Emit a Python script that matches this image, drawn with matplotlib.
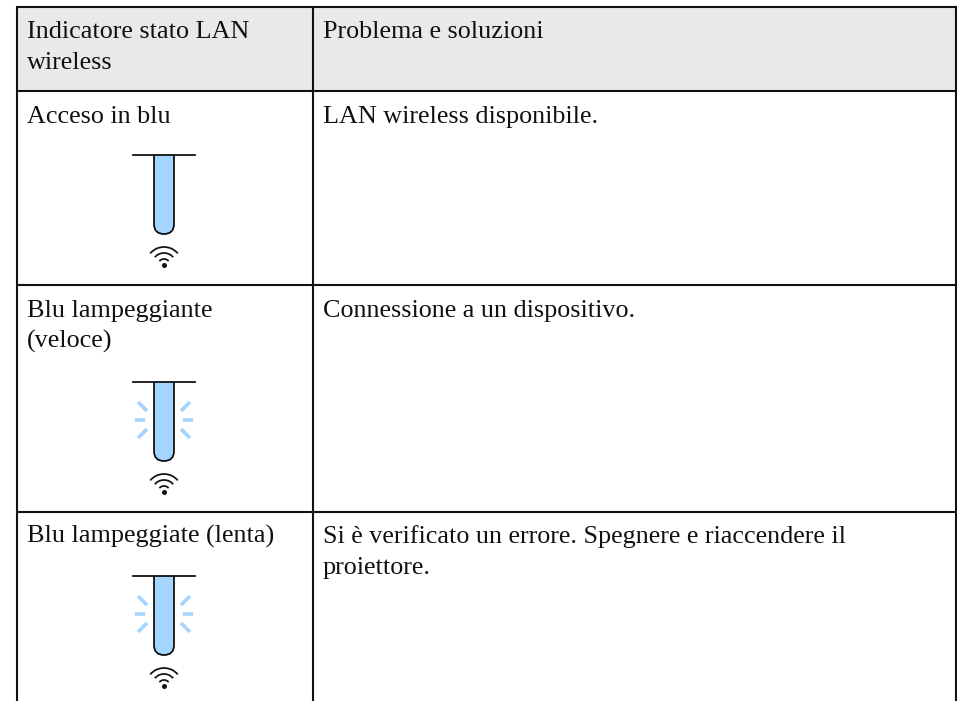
import matplotlib.pyplot as plt
from matplotlib.patches import Rectangle, PathPatch, Arc
from matplotlib.path import Path

W, H = 957, 701

left_texts = [
    ["Indicatore stato LAN", "wireless"],
    ["Acceso in blu"],
    ["Blu lampeggiante", "(veloce)"],
    ["Blu lampeggiate (lenta)"],
]
right_texts = [
    ["Problema e soluzioni"],
    ["LAN wireless disponibile."],
    ["Connessione a un dispositivo."],
    ["Si è verificato un errore. Spegnere e riaccendere il", "proiettore."],
]
row_lines = [6.5, 91, 285, 512]
baselines = [38, 123, 317, 543]
icon_tops = [155, 382, 576]
blinking = [False, True, True]

BLUE = "#a3d5ff"
INK = "#111111"

plt.rcParams["font.family"] = "Liberation Serif"

fig = plt.figure(figsize=(W / 100, H / 100), dpi=100)
ax = fig.add_axes([0, 0, 1, 1])
ax.set_xlim(0, W)
ax.set_ylim(H, 0)
ax.axis("off")

# header background and grid
ax.add_patch(Rectangle((16.5, 6.5), 939, 84.5, fc="#e9e9e9", ec="none"))
for y in row_lines:
    ax.plot([16, 956.5], [y, y], color=INK, lw=1.5, solid_capstyle="butt")
for x in [16.7, 313, 955.5]:
    ax.plot([x, x], [5.5, H], color=INK, lw=1.5, solid_capstyle="butt")


def draw_text(x, y, lines):
    for i, line in enumerate(lines):
        ax.text(x, y + i * 31, line, fontsize=18.8, color="#111111", va="baseline", ha="left")


for lines, y in zip(left_texts, baselines):
    draw_text(27, y, lines)
for lines, y in zip(right_texts, baselines):
    draw_text(323, y, lines)


def draw_icon(top, blink):
    cx = 164
    hw = 10
    bottom = top + 79
    verts = [
        (cx - hw, top), (cx - hw, bottom - hw),
        (cx - hw, bottom), (cx, bottom),
        (cx + hw, bottom), (cx + hw, bottom - hw),
        (cx + hw, top),
    ]
    codes = [Path.MOVETO, Path.LINETO, Path.CURVE3, Path.CURVE3, Path.CURVE3, Path.CURVE3, Path.LINETO]
    ax.add_patch(PathPatch(Path(verts, codes), fc=BLUE, ec=INK, lw=1.3))
    ax.plot([cx - 31, cx + 31], [top, top], color=INK, lw=1.3)

    if blink:
        mid = top + 38
        for side in [-1, 1]:
            ax.plot([cx + side * 19, cx + side * 29], [mid, mid], color=BLUE, lw=2.6, solid_capstyle="butt")
            ax.plot([cx + side * 17, cx + side * 26], [mid - 9, mid - 18], color=BLUE, lw=2.6, solid_capstyle="butt")
            ax.plot([cx + side * 17, cx + side * 26], [mid + 9, mid + 18], color=BLUE, lw=2.6, solid_capstyle="butt")

    # wifi symbol
    dot_y = top + 110
    ax.plot([cx], [dot_y], "o", color=INK, ms=3.6, mew=0)
    for r in [6, 12, 18]:
        ax.add_patch(Arc((cx, dot_y), r * 2, r * 2, theta1=220, theta2=320, color=INK, lw=1.25))


for top, blink in zip(icon_tops, blinking):
    draw_icon(top, blink)

fig.savefig("out.png", dpi=100, facecolor="white")
